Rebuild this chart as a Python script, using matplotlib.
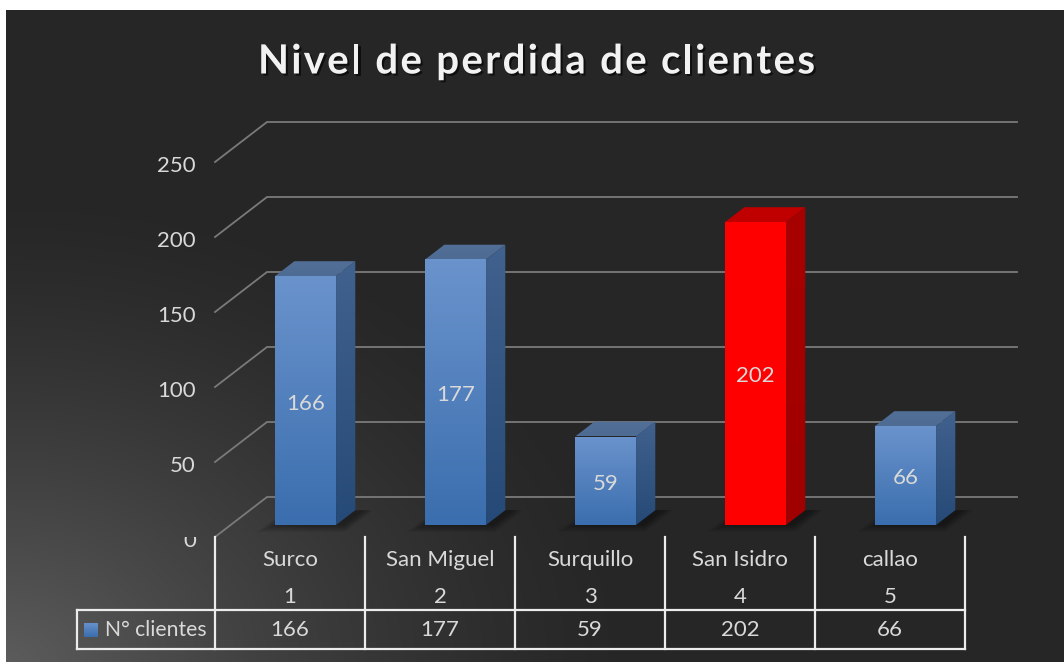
import numpy as np
import matplotlib
matplotlib.use("Agg")
import matplotlib.pyplot as plt
from matplotlib.patches import Polygon
from matplotlib.colors import to_rgb
from matplotlib.transforms import Bbox, TransformedBbox
from matplotlib import patheffects as pe

# datos
distritos = ["Surco", "San Miguel", "Surquillo", "San Isidro", "callao"]
numeros = ["1", "2", "3", "4", "5"]
clientes = [166, 177, 59, 202, 66]
destacado = [False, False, False, True, False]
ticks = [0, 50, 100, 150, 200, 250]
serie = "N° clientes"
titulo = "Nivel de perdida de clientes"

plt.rcParams['font.family'] = ['Lato', 'DejaVu Sans']
txt = '#d9d9d9'
fs = 16

W, H = 1064, 662
fig = plt.figure(figsize=(W / 100, H / 100), dpi=100)
fig.patch.set_facecolor('white')
ax = fig.add_axes([0, 0, 1, 1])
ax.axis('off')

# escala: 150 px por categoria, 1.5 px por unidad
def px(x):
    return (x - 290) / 150

def py(y):
    return (537 - y) / 1.5

# profundidad 3d
DX, DY = 52 / 150, 40 / 1.5

def P(x, v, z):
    return (x + z * DX, v + z * DY)

# fondo con degradado desde la esquina inferior izquierda
gy, gx = np.mgrid[10:H, 6:W]
d = np.sqrt(((gx - 6) / 640) ** 2 + ((H - gy) / 480) ** 2)
k = np.clip(1 - d, 0, 1) ** 1.4
val = (0x26 + (0x5c - 0x26) * k) / 255
bg = np.dstack([val, val, val])
ax.imshow(bg, extent=[px(6), px(W), py(H), py(10)], origin='upper',
          aspect='auto', zorder=0)

# lineas de division
for t in ticks:
    x0, y0 = P(-0.5, t, 0)
    x1, y1 = P(-0.5, t, 1)
    x2, y2 = P(4.5, t, 1)
    ax.plot([x0, x1, x2], [y0, y1, y2], color='#7a7a7a', lw=1.3, zorder=1,
            solid_joinstyle='miter')
    lab = ax.text(px(196), t - 2.5, str(t), ha='right', va='center',
                  color=txt, fontsize=fs, zorder=5)
    if t == 0:
        lab.set_clip_on(True)
        lab.set_clip_box(TransformedBbox(Bbox([[-3, -100], [0, 0]]), ax.transData))


def cara(pts, c_top, c_bot, z):
    pts = np.array(pts)
    poly = Polygon(pts, closed=True, facecolor='none', edgecolor='none')
    ax.add_patch(poly)
    c1 = np.array(to_rgb(c_top))
    c2 = np.array(to_rgb(c_bot))
    t = np.linspace(0, 1, 64)[:, None]
    grad = (c1 * (1 - t) + c2 * t)[:, None, :]
    im = ax.imshow(grad, extent=[pts[:, 0].min(), pts[:, 0].max(),
                                 pts[:, 1].min(), pts[:, 1].max()],
                   origin='upper', aspect='auto', zorder=z,
                   interpolation='bilinear')
    im.set_clip_path(poly)


w = 0.203
z0, z1 = 0.3, 0.67
for i, (v, rojo) in enumerate(zip(clientes, destacado)):
    # sombra suave
    for s in range(8):
        e = 0.01 * s
        ez = 0.025 * s
        sh = [P(i - w - e + 0.01, 0, z0 - ez), P(i + w + e + 0.05, 0, z0 - ez),
              P(i + w + e + 0.05, 0, z1), P(i - w - e + 0.01, 0, z1)]
        ax.add_patch(Polygon(sh, closed=True, facecolor='black', edgecolor='none',
                             alpha=0.05, zorder=2))
    if rojo:
        front = ('#ff0000', '#ff0000')
        side = ('#a80000', '#a00000')
        top = ('#c00000', '#c00000')
    else:
        front = ('#6a93cc', '#3b6eae')
        side = ('#41618e', '#264a77')
        top = ('#526f98', '#4e6b94')
    cara([P(i - w, 0, z0), P(i + w, 0, z0), P(i + w, v, z0), P(i - w, v, z0)],
         front[0], front[1], 3)
    cara([P(i + w, 0, z0), P(i + w, 0, z1), P(i + w, v, z1), P(i + w, v, z0)],
         side[0], side[1], 3)
    cara([P(i - w, v, z0), P(i + w, v, z0), P(i + w, v, z1), P(i - w, v, z1)],
         top[0], top[1], 3)
    cx, cy = P(i, v / 2, z0)
    ax.text(cx, cy - 2, str(v), ha='center', va='center', color=txt,
            fontsize=fs, zorder=6)

# tabla de datos
lc = '#ececec'
lw = 1.6
for j in range(len(distritos) + 1):
    ax.plot([j - 0.5, j - 0.5], [0, py(649)], color=lc, lw=lw, zorder=4)
ax.plot([px(77), 4.5], [py(610), py(610)], color=lc, lw=lw, zorder=4)
ax.plot([px(77), 4.5], [py(649), py(649)], color=lc, lw=lw, zorder=4)
ax.plot([px(77), px(77)], [py(610), py(649)], color=lc, lw=lw, zorder=4)
for i in range(len(distritos)):
    ax.text(i, py(560), distritos[i], ha='center', va='center', color=txt, fontsize=fs)
    ax.text(i, py(597), numeros[i], ha='center', va='center', color=txt, fontsize=fs)
    ax.text(i, py(630), str(clientes[i]), ha='center', va='center', color=txt, fontsize=fs)
cara([(px(84), py(637)), (px(98), py(637)), (px(98), py(623)), (px(84), py(623))],
     '#6a93cc', '#3b6eae', 5)
ax.text(px(105), py(630), serie, ha='left', va='center', color=txt, fontsize=15.2)

ax.set_xlim(px(0), px(W))
ax.set_ylim(py(H), py(0))

# titulo con espaciado entre letras
renderer = fig.canvas.get_renderer()
tprops = dict(fontsize=29, fontweight='bold')

def ancho(s):
    t = fig.text(0, 0, s, **tprops)
    wd = t.get_window_extent(renderer).width
    t.remove()
    return wd

natural = ancho(titulo)
ls = (557 - natural) / (len(titulo) - 1)
x0 = 258
for k, ch in enumerate(titulo):
    if ch == ' ':
        continue
    izq = ancho(titulo[:k + 1]) - ancho(ch) + k * ls
    fig.text((x0 + izq) / W, 1 - 62 / H, ch, ha='left', va='center',
             color='#f2f2f2', **tprops,
             path_effects=[pe.withSimplePatchShadow(offset=(1.5, -1.5),
                                                    shadow_rgbFace='black', alpha=0.6)])

fig.savefig('out.png', dpi=100, facecolor=fig.get_facecolor())
